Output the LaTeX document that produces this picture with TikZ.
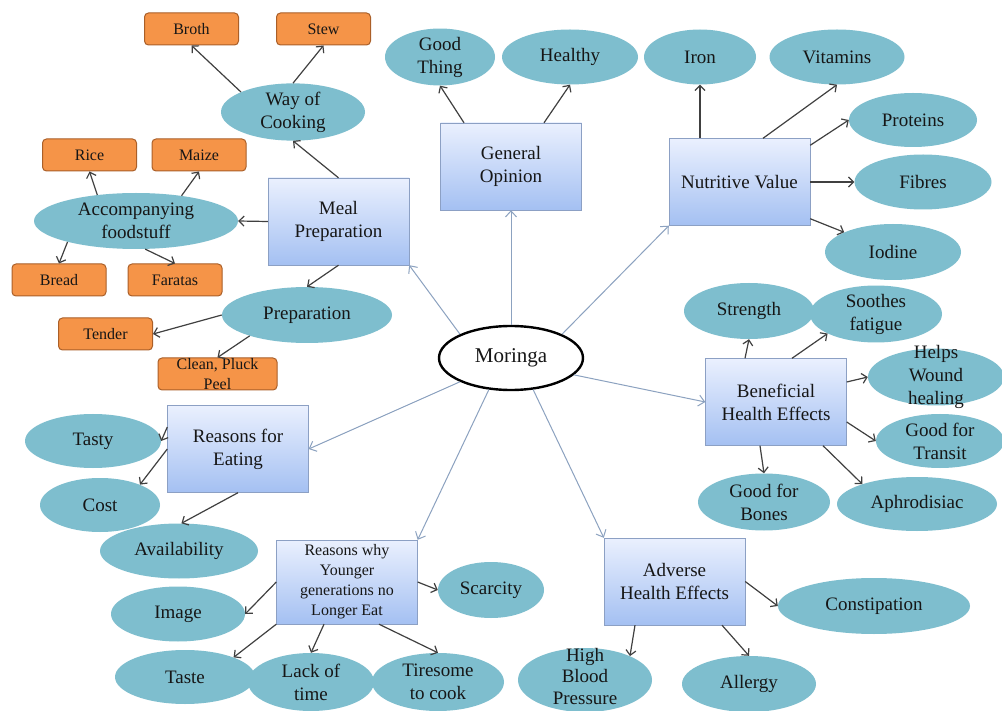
\documentclass[tikz,border=0pt]{standalone}
\usepackage{fontspec}
\setmainfont{Liberation Serif}
\usepackage{tikz}
\usetikzlibrary{shapes,arrows.meta}
\usepackage{xcolor}
\definecolor{leafblue}{RGB}{126,190,206}
\definecolor{tagorange}{RGB}{245,148,72}
\definecolor{tagedge}{RGB}{170,95,40}
\definecolor{boxtop}{RGB}{234,240,254}
\definecolor{boxbottom}{RGB}{164,192,242}
\definecolor{boxedge}{RGB}{140,160,196}
\definecolor{spoke}{RGB}{140,162,192}
\definecolor{ink}{RGB}{22,22,22}

\begin{document}
\begin{tikzpicture}[
    x = 1pt, y = -1pt,
    font = \fontsize{19}{23}\selectfont,
    text = ink,
    hub/.style     = {ellipse, draw=black, line width=2.4pt, fill=white,
      minimum width=144pt, minimum height=64pt,
      font=\fontsize{21}{25}\selectfont},
    topic/.style   = {rectangle, draw=boxedge, top color=boxtop,
      bottom color=boxbottom, minimum width=141pt, minimum height=87pt,
      align=center, inner sep=2pt},
    leaf/.style    = {ellipse, fill=leafblue, inner sep=0pt, align=center},
    tag/.style     = {rectangle, rounded corners=4pt, draw=tagedge,
      fill=tagorange, line width=1pt, minimum width=94pt, minimum height=32pt,
      font=\fontsize{16}{20}\selectfont},
    link/.style    = {draw=black!75, line width=1.2pt,
      -{Straight Barb[length=5pt,width=10pt]}},
    spokeline/.style = {draw=spoke, line width=1pt,
      -{Straight Barb[length=6pt,width=11pt]}}
  ]
  \useasboundingbox (0,0) rectangle (1002,711);
  \fill[white] (0,0) rectangle (1002,711);

  \node[hub] (moringa) at (511,358) {Moringa};

  \node[topic] (meal) at (338.5,221.5) {Meal\\Preparation};
  \node[topic] (opinion) at (511,166.5) {General\\Opinion};
  \node[topic] (nutri) at (739.5,182) {Nutritive Value};
  \node[topic] (benefit) at (776,402) {Beneficial\\Health Effects};
  \node[topic] (adverse) at (674.5,581.5) {Adverse\\Health Effects};
  \node[topic] (eating) at (238,449) {Reasons for\\Eating};
  \node[topic, minimum height=84pt, font=\fontsize{16}{20}\selectfont]
    (younger) at (347,582) {Reasons why\\Younger\\generations no\\Longer Eat};

  \node[leaf, minimum width=144pt, minimum height=56pt] (cooking) at (293,112) {Way of\\Cooking};
  \node[leaf, minimum width=204pt, minimum height=56pt] (foodstuff) at (136,221) {Accompanying\\foodstuff};
  \node[leaf, minimum width=170pt, minimum height=56pt] (prep) at (307,315) {Preparation};
  \node[tag] (broth) at (191.5,29) {Broth};
  \node[tag] (stew) at (323.5,29) {Stew};
  \node[tag] (rice) at (89.5,155) {Rice};
  \node[tag] (maize) at (199,155) {Maize};
  \node[tag] (bread) at (59,280) {Bread};
  \node[tag] (faratas) at (175,280) {Faratas};
  \node[tag] (tender) at (105.5,334) {Tender};
  \node[tag, minimum width=119pt,
    label={[align=center, font=\fontsize{16}{20}\selectfont]center:Clean, Pluck\\Peel}]
    (clean) at (217.5,374) {};

  \node[leaf, minimum width=110pt, minimum height=54pt] (goodthing) at (440,57) {Good\\Thing};
  \node[leaf, minimum width=136pt, minimum height=55pt] (healthy) at (570,57) {Healthy};
  \node[leaf, minimum width=112pt, minimum height=55pt] (iron) at (700,57) {Iron};
  \node[leaf, minimum width=135pt, minimum height=55pt] (vitamins) at (837,57) {Vitamins};
  \node[leaf, minimum width=128pt, minimum height=54pt] (proteins) at (913,120) {Proteins};
  \node[leaf, minimum width=137pt, minimum height=55pt] (fibres) at (923,182) {Fibres};
  \node[leaf, minimum width=136pt, minimum height=56pt] (iodine) at (893,252) {Iodine};

  \node[leaf, minimum width=130pt, minimum height=56pt] (strength) at (749,311) {Strength};
  \node[leaf, minimum width=132pt, minimum height=56pt] (soothes) at (876,314) {Soothes\\fatigue};
  \node[leaf, minimum width=136pt, minimum height=57pt,
    label={[align=center]center:Helps\\Wound\\healing}] (wound) at (936,377) {};
  \node[leaf, minimum width=128pt, minimum height=54pt] (transit) at (940,441) {Good for\\Transit};
  \node[leaf, minimum width=132pt, minimum height=57pt] (bones) at (764,502) {Good for\\Bones};
  \node[leaf, minimum width=160pt, minimum height=54pt] (aphro) at (917,504) {Aphrodisiac};

  \node[leaf, minimum width=136pt, minimum height=54pt] (tasty) at (93,441) {Tasty};
  \node[leaf, minimum width=120pt, minimum height=54pt] (cost) at (100,505) {Cost};
  \node[leaf, minimum width=158pt, minimum height=55pt] (avail) at (179,551) {Availability};

  \node[leaf, minimum width=106pt, minimum height=56pt] (scarcity) at (491,590) {Scarcity};
  \node[leaf, minimum width=134pt, minimum height=55pt] (image) at (178,614) {Image};
  \node[leaf, minimum width=140pt, minimum height=54pt] (taste) at (185,677) {Taste};
  \node[leaf, minimum width=126pt, minimum height=58pt] (lack) at (311,682) {Lack of\\time};
  \node[leaf, minimum width=132pt, minimum height=58pt] (tiresome) at (438,682) {Tiresome\\to cook};

  \node[leaf, minimum width=192pt, minimum height=56pt] (constip) at (874,606) {Constipation};
  \node[leaf, minimum width=134pt, minimum height=64pt,
    label={[align=center, font=\fontsize{19}{21.5}\selectfont, yshift=4pt]center:High\\Blood\\Pressure}]
    (pressure) at (585,680) {};
  \node[leaf, minimum width=134pt, minimum height=56pt] (allergy) at (749,684) {Allergy};

  \draw[spokeline] (moringa.155) -- (meal.south east);
  \draw[spokeline] (moringa.north) -- (opinion.south);
  \draw[spokeline] (moringa.25) -- (nutri.south west);
  \draw[spokeline] (moringa.345) -- (benefit.west);
  \draw[spokeline] (moringa.305) -- (adverse.north west);
  \draw[spokeline] (moringa.235) -- (younger.north east);
  \draw[spokeline] (moringa.205) -- (eating.east);

  \draw[link] (meal.north) -- (cooking.south);
  \draw[link] (meal.west) -- (foodstuff.east);
  \draw[link] (meal.south) -- (prep.north);
  \draw[link] (cooking.159) -- (broth.south);
  \draw[link] (cooking.north) -- (stew.south);
  \draw[link] (foodstuff.146) -- (rice.south);
  \draw[link] (foodstuff.29) -- (maize.south);
  \draw[link] (foodstuff.197) -- (bread.north);
  \draw[link] (foodstuff.288) -- (faratas.north);
  \draw[link] (prep.west) -- (tender.east);
  \draw[link] (prep.200) -- (clean.north);

  \draw[link] ([xshift=-47pt]opinion.north) -- (goodthing.south);
  \draw[link] ([xshift=33pt]opinion.north) -- (healthy.south);

  \draw[link] (iron.south |- nutri.north) -- (iron.south);
  \draw[link] ([xshift=23.5pt]nutri.north) -- (vitamins.south);
  \draw[link] ([yshift=-7pt]nutri.north east) -- (proteins.west);
  \draw[link] (nutri.east) -- (fibres.west);
  \draw[link] ([yshift=7pt]nutri.south east) -- (iodine.158);

  \draw[link] ([xshift=-31pt]benefit.north) -- (strength.south);
  \draw[link] ([xshift=16pt]benefit.north) -- (soothes.202);
  \draw[link] ([yshift=20pt]benefit.east) -- (wound.west);
  \draw[link] ([yshift=-20pt]benefit.east) -- (transit.west);
  \draw[link] ([xshift=-16pt]benefit.south) -- (bones.north);
  \draw[link] ([xshift=47pt]benefit.south) -- (aphro.160);

  \draw[link] ([yshift=22pt]eating.west) -- (tasty.east);
  \draw[link] (eating.west) -- (cost.27);
  \draw[link] (eating.south) -- (avail.85);

  \draw[link] (younger.east) -- (scarcity.west);
  \draw[link] (younger.west) -- (image.east);
  \draw[link] (younger.south west) -- (taste.22);
  \draw[link] ([xshift=-23pt]younger.south) -- (lack.north);
  \draw[link] ([xshift=32pt]younger.south) -- (tiresome.north);

  \draw[link] (adverse.east) -- (constip.west);
  \draw[link] ([xshift=-39.5pt]adverse.south) -- (pressure.28);
  \draw[link] ([xshift=47.5pt]adverse.south) -- (allergy.north);
\end{tikzpicture}
\end{document}
